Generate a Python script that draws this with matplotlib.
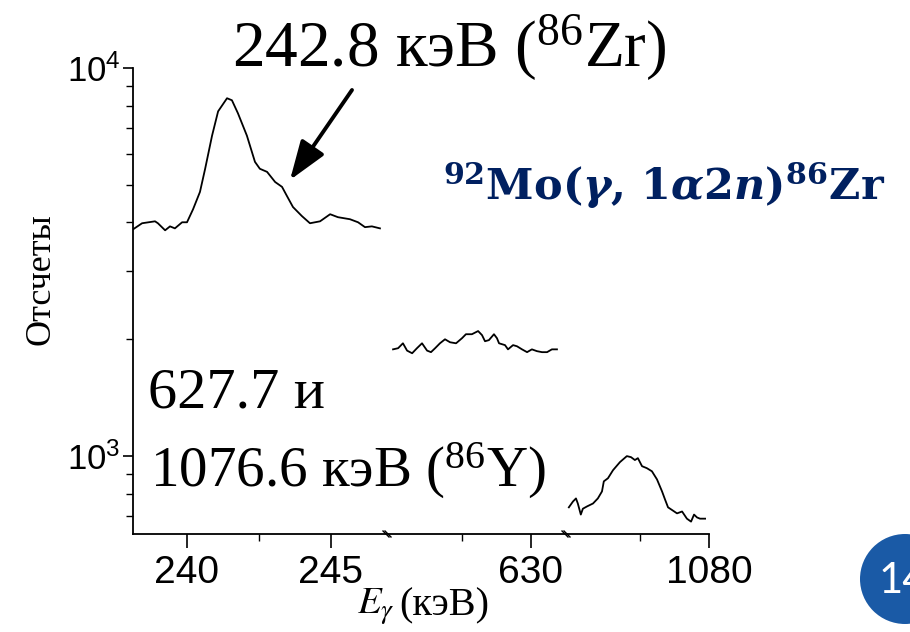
import matplotlib
matplotlib.use("Agg")
import matplotlib.pyplot as plt
from matplotlib.lines import Line2D
from matplotlib.patches import Ellipse

plt.rcParams["font.family"] = ["Liberation Sans", "DejaVu Sans"]
# bold serif faces for the reaction label (custom math font set)
plt.rcParams["mathtext.rm"] = "DejaVu Serif:bold"
plt.rcParams["mathtext.it"] = "DejaVu Serif:italic:bold"
plt.rcParams["mathtext.bf"] = "DejaVu Serif:bold"

# 242.8 keV window (86Zr)
e_zr = [238.12, 238.44, 238.89, 238.99, 239.24, 239.41, 239.58, 239.83, 240.00,
        240.21, 240.45, 240.63, 240.87, 241.08, 241.39, 241.56, 241.77, 242.08,
        242.36, 242.53, 242.78, 243.06, 243.30, 243.47, 243.68, 243.99, 244.27,
        244.62, 244.97, 245.24, 245.66, 245.94, 246.18, 246.42, 246.70]
cnt_zr = [3837, 3981, 4027, 3981, 3818, 3908, 3862, 4004, 4004,
          4325, 4794, 5500, 6693, 7732, 8358, 8258, 7641, 6693,
          5730, 5500, 5400, 5085, 4940, 4680, 4383, 4154, 3981,
          4027, 4200, 4127, 4077, 4004, 3890, 3908, 3862]

# 627.7 keV window (86Y)
e_y627 = [624.00, 624.22, 624.43, 624.61, 624.83, 625.04, 625.26, 625.48, 625.65,
          625.83, 626.04, 626.26, 626.48, 626.74, 627.00, 627.17, 627.43, 627.70,
          627.87, 628.00, 628.17, 628.39, 628.52, 628.61, 628.87, 629.00, 629.22,
          629.39, 629.61, 629.83, 630.04, 630.26, 630.48, 630.70, 630.91, 631.13]
cnt_y627 = [1884, 1897, 1953, 1870, 1841, 1897, 1953, 1870, 1853,
            1897, 1953, 2000, 1965, 1953, 2013, 2061, 2061, 2100,
            2050, 1977, 1990, 2061, 2013, 1953, 1932, 1884, 1932,
            1919, 1884, 1853, 1884, 1864, 1853, 1853, 1884, 1884]

# 1076.6 keV window (86Y)
e_y1076 = [1073.91, 1074.09, 1074.22, 1074.30, 1074.43, 1074.52, 1074.70, 1074.96,
           1075.17, 1075.35, 1075.43, 1075.61, 1075.83, 1076.13, 1076.43, 1076.61,
           1076.78, 1076.91, 1077.09, 1077.30, 1077.52, 1077.74, 1077.96, 1078.09,
           1078.22, 1078.43, 1078.61, 1078.83, 1079.04, 1079.22, 1079.35, 1079.48,
           1079.61, 1079.83]
cnt_y1076 = [738, 764, 778, 755, 707, 732, 742, 755,
             778, 811, 861, 877, 920, 965, 1000, 994,
             977, 988, 942, 931, 914, 871, 811, 773,
             738, 724, 712, 720, 690, 678, 707, 695,
             690, 690]

# axis windows, tick positions and labels per segment
segments = [
    dict(e=e_zr, c=cnt_zr, xlim=(238.125, 246.91), major=[240, 245], minor=[242.5],
         labels=["240", "245"], px=(133, 386)),
    dict(e=e_y627, c=cnt_y627, xlim=(623.78, 631.48), major=[630], minor=[627],
         labels=["630"], px=(388, 565)),
    dict(e=e_y1076, c=cnt_y1076, xlim=(1073.83, 1080.0), major=[1080], minor=[1077],
         labels=["1080"], px=(567, 709)),
]
y_limits = (630, 10000)
y_major = [1e3, 1e4]
y_labels = [r"$\mathregular{10^{3}}$", r"$\mathregular{10^{4}}$"]

W, H = 910, 632
fig = plt.figure(figsize=(W / 100, H / 100), dpi=100)
Y_TOP, Y_BOT = 68, 534


def fx(px):
    return px / W


def fy(py):
    return 1 - py / H


axes = []
for i, seg in enumerate(segments):
    x0, x1 = seg["px"]
    ax = fig.add_axes([fx(x0), fy(Y_BOT), (x1 - x0) / W, (Y_BOT - Y_TOP) / H])
    ax.plot(seg["e"], seg["c"], color="black", lw=1.3)
    ax.set_yscale("log")
    ax.set_ylim(*y_limits)
    ax.set_xlim(*seg["xlim"])
    ax.set_xticks(seg["major"])
    ax.set_xticklabels(seg["labels"])
    ax.set_xticks(seg["minor"], minor=True)
    for s in ("top", "right"):
        ax.spines[s].set_visible(False)
    ax.spines["bottom"].set_linewidth(1.3)
    ax.tick_params(axis="x", which="major", direction="out", length=10, width=1.2,
                   labelsize=28, pad=5)
    ax.tick_params(axis="x", which="minor", direction="out", length=5, width=1.0)
    if i == 0:
        ax.spines["left"].set_linewidth(1.3)
        ax.set_yticks(y_major)
        ax.set_yticklabels(y_labels)
        ax.tick_params(axis="y", which="major", direction="out", length=7, width=1.2,
                       labelsize=25, pad=2)
        ax.tick_params(axis="y", which="minor", direction="out", length=5, width=1.0)
    else:
        ax.spines["left"].set_visible(False)
        ax.tick_params(axis="y", which="both", left=False, labelleft=False)
    ax.patch.set_alpha(0)
    axes.append(ax)

# break marks on the horizontal axis
for bx in (386, 388, 565, 567):
    fig.add_artist(Line2D([fx(bx - 3), fx(bx + 3)], [fy(Y_BOT - 3), fy(Y_BOT + 3)],
                          transform=fig.transFigure, color="black", lw=1.0))

serif = ["Liberation Serif", "DejaVu Serif"]
fig.text(fx(41), fy(279), "Отсчеты", family=serif, fontsize=26, rotation=90,
         ha="center", va="center")
fig.text(fx(395), fy(607), r"$E_{\gamma}$", family=serif, fontsize=28,
         math_fontfamily="stix", ha="right", va="center")
fig.text(fx(399), fy(606), "(кэВ)", family=serif, fontsize=29, ha="left", va="center")

fig.text(fx(232), fy(66), r"242.8 кэВ ($\mathregular{^{86}}$Zr)", family=serif,
         fontsize=47, ha="left", va="baseline")
fig.text(fx(148), fy(408), "627.7 и", family=serif, fontsize=42, ha="left", va="baseline")
fig.text(fx(150), fy(487), r"1076.6 кэВ ($\mathregular{^{86}}$Y)", family=serif,
         fontsize=41, ha="left", va="baseline")

fig.text(fx(443), fy(200),
         r"$\mathregular{^{92}}$Mo($\gamma$, 1$\alpha$2$n$)$\mathregular{^{86}}$Zr",
         family=["DejaVu Serif"], fontweight="bold", fontsize=31, color="#002060",
         math_fontfamily="custom", ha="left", va="baseline")

# arrow onto the 242.8 keV shoulder
axes[0].annotate("", xy=(fx(290), fy(180)), xycoords="figure fraction",
                 xytext=(fx(352), fy(90)), textcoords="figure fraction",
                 arrowprops=dict(arrowstyle="-|>,head_length=2.4,head_width=0.85",
                                 color="black", lw=2.8, shrinkA=0, shrinkB=0))

# slide number badge
badge = Ellipse((fx(905), fy(579)), 2 * 45 / W, 2 * 45 / H, transform=fig.transFigure,
                facecolor="#1a5aa6", edgecolor="none")
fig.add_artist(badge)
fig.text(fx(879), fy(581), "14", color="white", fontsize=30, family=["Lato", "DejaVu Sans"],
         ha="left", va="center")

fig.savefig("out.png", dpi=100)
